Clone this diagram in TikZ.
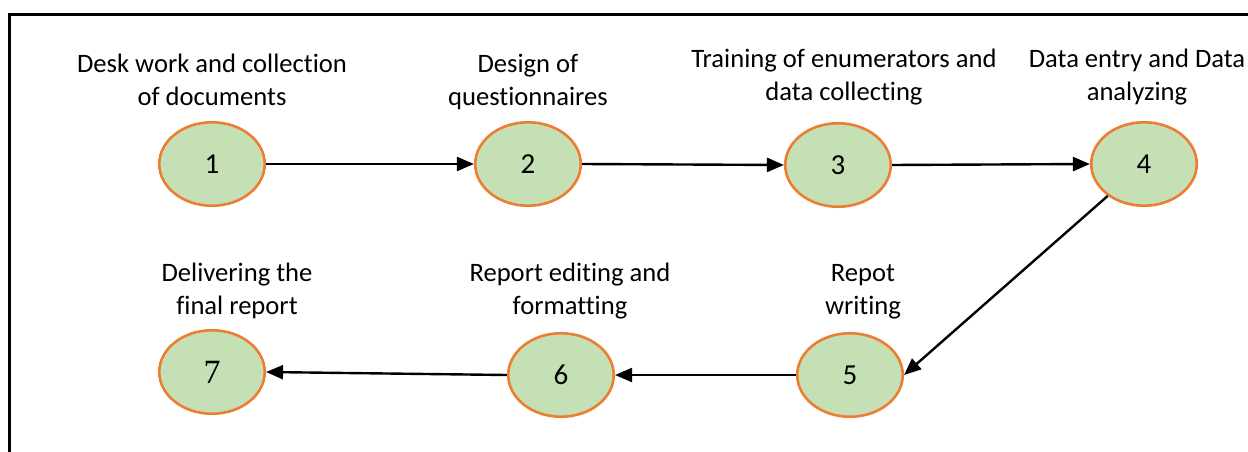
\documentclass[tikz,border=0pt]{standalone}
\usepackage{fontspec}
\setmainfont{Carlito}[Ligatures=NoCommon]
\newfontfamily\serifnum{Liberation Serif}
\usetikzlibrary{arrows.meta,shapes.geometric}
\definecolor{nodefill}{HTML}{C5E0B4}
\definecolor{nodeline}{HTML}{ED7D31}
\begin{document}
\begin{tikzpicture}[x=1pt,y=-1pt,
  stage/.style={ellipse, draw=nodeline, fill=nodefill, line width=2.6pt,
    minimum width=105.5pt, minimum height=83.5pt, inner sep=0pt,
    font=\fontsize{29}{34}\selectfont},
  caption/.style={anchor=base, align=center, inner sep=0pt,
    font=\fontsize{26.6}{33}\selectfont},
  flow/.style={line width=2.4pt, -{Triangle[length=17pt,width=14pt]}},
  frame/.style={line width=2.8pt}]
\useasboundingbox (0,0) rectangle (1248,452);
\draw[frame] (9.3,460) -- (9.3,14.7) -- (1260,14.7);

\node[stage] (n1) at (212,164) {\raisebox{-2pt}{1}};
\node[stage] (n2) at (528,164) {\raisebox{-2pt}{2}};
\node[stage] (n3) at (838,165) {\raisebox{-2pt}{3}};
\node[stage] (n4) at (1144,164) {\raisebox{-2pt}{4}};
\node[stage] (n5) at (850,375) {\raisebox{-2pt}{5}};
\node[stage] (n6) at (561,375) {\raisebox{-2pt}{6}};
\node[stage] (n7) at (212,372) {\fontsize{34}{40}\selectfont\serifnum 7};

\node[caption] (l1) at (212,106) {Desk work and collection\\of documents};
\node[caption] (l2) at (528,106) {Design of\\questionnaires};
\node[caption] (l3) at (844,100) {Training of enumerators and\\data collecting};
\node[caption] (l4) at (1137,100) {Data entry and Data\\analyzing};
\node[caption] (l7) at (237,314) {Delivering the\\final report};
\node[caption] (l6) at (570,314) {Report editing and\\formatting};
\node[caption] (l5) at (863,314) {Repot\\writing};

\draw[flow] (n1.east) -- (n2.west);
\draw[flow] (n2.east) -- (n3.west);
\draw[flow] (n3.east) -- (n4.west);
\draw[flow] (n4) -- (n5.east);
\draw[flow] (n5.west) -- (n6.east);
\draw[flow] (n6.west) -- (n7.east);
\end{tikzpicture}
\end{document}
